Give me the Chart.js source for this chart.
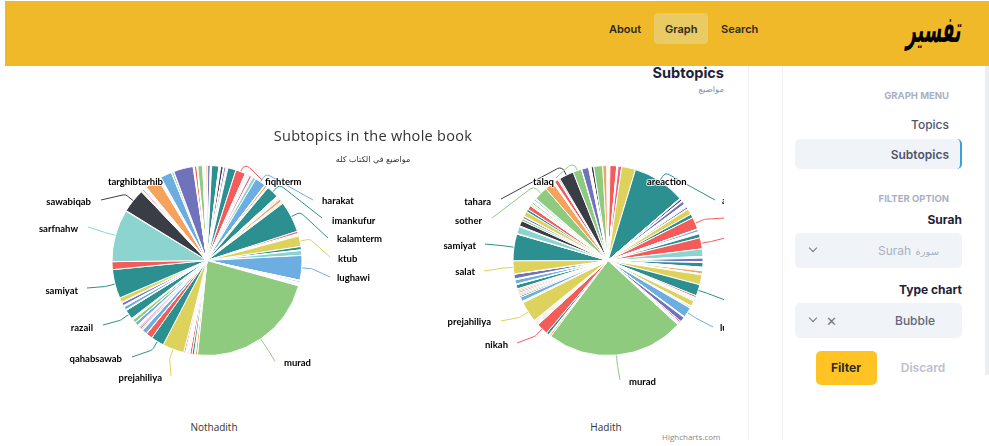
<!DOCTYPE html>
<html>
<head>
<meta charset="utf-8">
<title>Subtopics</title>
<script src="https://cdn.jsdelivr.net/npm/chart.js@4"></script>
<style>
  html, body { margin: 0; padding: 0; background: #fff; overflow: hidden; }
  body { width: 989px; height: 446px; position: relative; font-family: Inter, "Noto Sans", sans-serif; }
  .t { position: absolute; white-space: nowrap; line-height: 1; transform: translateY(-50%); }
  .r { text-align: right; }
  .c { transform: translate(-50%, -50%); }
  #header { position: absolute; left: 5px; top: 1px; right: 0; height: 65px; background: #f0b929; z-index: 3; }
  #navActive { position: absolute; left: 654px; top: 13px; width: 54px; height: 31px; background: #e9ca63; border-radius: 4px; z-index: 4; }
  .nav { z-index: 5; font-size: 11px; font-weight: 600; color: #2b2a22; }
  #logo { right: 27px; top: 30px; z-index: 5; font-family: "DejaVu Sans"; font-weight: bold; font-size: 28px; color: #000; transform-origin: right center; transform: translateY(-50%) scale(.62, 1.3) skewX(-14deg); }
  #content { position: absolute; left: 0; top: 0; width: 724px; height: 446px; overflow: hidden; }
  #content canvas { position: absolute; }
  .vline { position: absolute; top: 66px; bottom: 6px; width: 1px; background: #f1f1f4; }
  #scroll { position: absolute; left: 985px; top: 66px; width: 4px; height: 309px; background: #eceef1; }
  .menuhead { font-size: 9.5px; font-weight: 700; color: #a9b0c3; }
  .menu { font-size: 12px; font-weight: 500; color: #50546a; }
  .lab { font-size: 12px; font-weight: 700; color: #1e2238; }
  .box { position: absolute; left: 795px; width: 167px; background: #f0f4f8; border-radius: 5px; }
  #active { top: 139px; height: 30px; border-right: 2px solid #3ba1dc; width: 165px; }
  #filterBtn { position: absolute; left: 816px; top: 351px; width: 61px; height: 34px; background: #ffc423; border-radius: 5px; }
  .chev { position: absolute; width: 5px; height: 5px; border-right: 1.2px solid #6e7488; border-bottom: 1.2px solid #6e7488; transform: rotate(45deg); }
</style>
</head>
<body>
<div id="header"></div>
<div id="navActive"></div>
<div class="t nav" style="left:609px;top:29px">About</div>
<div class="t nav" style="left:665px;top:29px">Graph</div>
<div class="t nav" style="left:721px;top:29px">Search</div>
<div class="t" id="logo" dir="rtl">تفسير</div>

<div id="content">
  <canvas id="leftPie" width="394" height="261" style="left:10px;top:130px;width:394px;height:261px"></canvas>
  <canvas id="rightPie" width="384" height="261" style="left:416px;top:130px;width:384px;height:261px"></canvas>
  <div class="t" style="right:0;top:73px;font-size:14.5px;font-weight:700;color:#1e2238">Subtopics</div>
  <div class="t" style="right:0;top:89px;font-size:8.5px;color:#8a8fa3;font-family:'DejaVu Sans'" dir="rtl">مواضيع</div>
  <div class="t c" style="left:373px;top:136px;font-size:14.5px;letter-spacing:.3px;color:#333;font-family:'Open Sans'">Subtopics in the whole book</div>
  <div class="t c" style="left:373px;top:160px;font-size:8px;color:#333;font-family:'DejaVu Sans'" dir="rtl">مواضيع في الكتاب كله</div>
  <div class="t c" style="left:214px;top:427px;font-size:10px;color:#333;font-family:'Open Sans'">Nothadith</div>
  <div class="t c" style="left:606px;top:427px;font-size:10px;color:#333;font-family:'Open Sans'">Hadith</div>
  <div class="t" style="left:662px;top:437px;font-size:8px;color:#888;font-family:'Open Sans'">Highcharts.com</div>
</div>

<div class="vline" style="left:748px"></div>
<div class="vline" style="left:782px"></div>
<div id="scroll"></div>

<div class="t r menuhead" style="right:40px;top:96px">GRAPH MENU</div>
<div class="t r menu" style="right:40px;top:125px">Topics</div>
<div class="box" id="active"></div>
<div class="t r menu" style="right:40px;top:155px;font-weight:600">Subtopics</div>

<div class="t r menuhead" style="right:40px;top:199px">FILTER OPTION</div>
<div class="t r lab" style="right:27px;top:220px">Surah</div>
<div class="box" style="top:233px;height:35px"></div>
<div class="chev" style="left:810px;top:245px"></div>
<div class="t" style="left:878px;top:251px;font-size:12px;color:#a9b0c3">Surah <span style="font-family:'DejaVu Sans';font-size:10px;margin-left:1px">سورة</span></div>
<div class="t r lab" style="right:27px;top:290px">Type chart</div>
<div class="box" style="top:303px;height:35px"></div>
<div class="chev" style="left:810px;top:315px"></div>
<div class="t" style="left:826px;top:321px;font-size:13px;color:#6e7488">✕</div>
<div class="t" style="left:895px;top:321px;font-size:12px;font-weight:500;color:#62667c">Bubble</div>
<div id="filterBtn"></div>
<div class="t c" style="left:846px;top:368px;font-size:12px;font-weight:700;color:#2a2a2a">Filter</div>
<div class="t c" style="left:923px;top:368px;font-size:12px;font-weight:600;color:#bcbfcc">Discard</div>

<script>
// shares, one line = one turn of the colour cycle
const leftValues = [
  .2,.2,3,.2,.2,.2,.2,.2,.2,.2,
  .1,.1,.4,1,1.6,.5,.3,4.4,.3,.3,
  .5,1.6,.2,.2,1.2,.6,.6,5,6,.3,
  .5,.5,.5,.5,.5,1.4,.3,.3,.3,2,
  6.5,.2,.2,1.2,.3,.3,.3,7.5,.4,.4,
  .5,.5,.6,1.6,.3,.5,.7,19,1.4,.3,
  .2,.2,.2,.2,.2,.2,6.5,2,.4,3,
  15,.2,.2,.2,.8,.3,.3,.3,.3,.3,
  .3,.3,80,1.3,.2,.2,.2,1.4,1.4,.2,
  .5,.5,.5,.5,.5,1,13.2,8,4,.2,
  3,.2,.3,.8,1,.8,.3,.3,.3,.3,
  2,.2,2,.3,.3,.3,.3,5.8,.2,.3,
  2,.3,.3,.3,1.8,.5,2.8,17.6,4.8,32,
  .3,14.6,.5,.3,.3,.8,.3,.2,.5,.3,
  .3,.2,.3,8.5,.3,.3,.3,.3,.4,.4,
  7,.2,1.2,.2,12,.3,.2,.2,1.5,.2
];
const rightValues = [
  .2,1.6,5.5,2.4,.5,.5,.5,.5,4.1,.2,
  .1,.1,.1,.1,.2,2.2,8.5,32.3,.2,.2,
  .2,1.2,.3,.3,2,.4,.4,.2,.2,.2,
  .2,.2,.2,.2,1.2,.3,3.5,2.4,7.3,.3,
  1.5,.2,.2,.2,.2,.2,.3,2.5,6.8,4.6,
  .3,.2,.3,.2,2.3,.2,.2,2.8,.3,.2,
  .5,.5,.7,1.8,.2,.5,6,7,1.2,.2,
  .3,.3,.3,.3,.3,.6,3.4,.3,.3,.8,
  6.2,.2,.2,.2,3,.9,.3,.3,.3,.3,
  .3,.3,84.3,1,.2,.2,.2,1.6,7.2,.4,
  .5,.5,.5,.5,.5,.5,12.6,.3,.3,.5,
  2.6,.9,.9,.9,.9,.9,.9,2.6,.2,.2,
  2.6,.2,.2,.2,2.8,.2,8,16.3,.3,4.4,
  .5,3.4,1.4,.2,1.3,.3,3,1.6,2.6,.6,
  .6,.4,1,.3,.2,.2,.2,.2,.2,1,
  .3,.3,8.4,5.6,.3,.3,.2,.3,2.4,.4,
  .8,9,5.3,.2,4.2,.4,.3,.3,.2,.1
];
const leftNames = { 28:'fiqhterm', 40:'harakat', 47:'imankufur', 57:'kalamterm', 66:'ktub', 70:'lughawi',
  82:'murad', 96:'prejahiliya', 97:'qahabsawab', 117:'razail', 127:'samiyat', 129:'sarfnahw',
  131:'sawabiqab', 154:'targhibtarhib' };
const rightNames = { 16:'areaction', 17:'a', 38:'', 48:'', 67:'', 80:'lughawi', 92:'murad', 98:'nikah',
  106:'prejahiliya', 126:'salat', 127:'samiyat', 152:'sother', 161:'tahara', 162:'talaq' };

const palette = ['#6daee2','#3a3d45','#8fcb7f','#f5a25c','#7073bb','#ee5f84','#dcd25c','#2b908f','#f45b5b','#8bd4d0'];

// where each label sits on the page: text x, text y, side, end of connector
const leftSpots = {
  28:[265,182,'left',262,180], 40:[322,201,'left',313,200], 47:[332,221,'left',322,218],
  57:[337,239,'left',328,238], 66:[338,259,'left',330,257], 70:[337,278,'left',330,277],
  82:[284,363,'left',275,361], 96:[162,378,'right',171,376], 97:[122,359,'right',132,357],
  117:[93,328,'right',103,325], 127:[78,291,'right',87,288], 129:[78,229,'right',88,227],
  131:[91,202,'right',101,200], 154:[163,182,'right',172,182]
};
const rightSpots = {
  16:[647,182,'left',638,180], 17:[722,201,'left',715,200], 38:[730,218,'left',725,218], 48:[730,238,'left',725,238],
  67:[730,300,'left',725,300], 80:[720,328,'left',713,327], 92:[629,382,'left',620,380], 98:[508,345,'right',517,343],
  106:[491,322,'right',501,321], 126:[475,272,'right',484,271], 127:[476,246,'right',485,244], 152:[482,221,'right',492,218],
  161:[491,202,'right',501,199], 162:[554,182,'right',556,178]
};

function eachLabel(chart, fn) {
  const opts = chart.options.plugins.pieLabels;
  const arcs = chart.getDatasetMeta(0).data;
  Object.keys(opts.names).forEach(k => fn(arcs[k], opts.names[k], opts.spots[k], +k));
}

const pieLabels = {
  id: 'pieLabels',
  beforeDatasetsDraw(chart) {
    const ctx = chart.ctx, ox = chart.canvas.offsetLeft, oy = chart.canvas.offsetTop;
    ctx.save();
    ctx.lineWidth = 1;
    eachLabel(chart, (arc, name, s, i) => {
      const a = (arc.startAngle + arc.endAngle) / 2;
      const ex = arc.x + Math.cos(a) * arc.outerRadius, ey = arc.y + Math.sin(a) * arc.outerRadius;
      const bx = arc.x + Math.cos(a) * (arc.outerRadius + 10), by = arc.y + Math.sin(a) * (arc.outerRadius + 10);
      ctx.strokeStyle = palette[i % 10];
      ctx.beginPath();
      ctx.moveTo(ex, ey);
      ctx.arcTo(bx, by, s[3] - ox, s[4] - oy, 5);
      ctx.lineTo(s[3] - ox, s[4] - oy);
      ctx.stroke();
    });
    ctx.restore();
  },
  afterDatasetsDraw(chart) {
    const ctx = chart.ctx, ox = chart.canvas.offsetLeft, oy = chart.canvas.offsetTop;
    ctx.save();
    ctx.font = 'bold 9.5px Lato';
    ctx.textBaseline = 'middle';
    ctx.lineJoin = 'round';
    eachLabel(chart, (arc, name, s) => {
      ctx.textAlign = s[2];
      ctx.lineWidth = 2;
      ctx.strokeStyle = 'rgba(255,255,255,.8)';
      ctx.strokeText(name, s[0] - ox, s[1] - oy);
      ctx.fillStyle = '#000';
      ctx.fillText(name, s[0] - ox, s[1] - oy);
    });
    ctx.restore();
  }
};

function makePie(id, values, rotation, names, spots) {
  new Chart(document.getElementById(id), {
    type: 'pie',
    data: {
      labels: values.map((v, i) => names[i] || ''),
      datasets: [{
        data: values,
        backgroundColor: values.map((v, i) => palette[i % 10]),
        borderColor: '#fff',
        borderWidth: 1,
        radius: 95
      }]
    },
    options: {
      responsive: false,
      animation: false,
      rotation: rotation,
      plugins: {
        legend: { display: false },
        tooltip: { enabled: false },
        pieLabels: { names: names, spots: spots }
      }
    },
    plugins: [pieLabels]
  });
}

makePie('leftPie', leftValues, -6, leftNames, leftSpots);
makePie('rightPie', rightValues, -10.5, rightNames, rightSpots);
</script>
</body>
</html>
